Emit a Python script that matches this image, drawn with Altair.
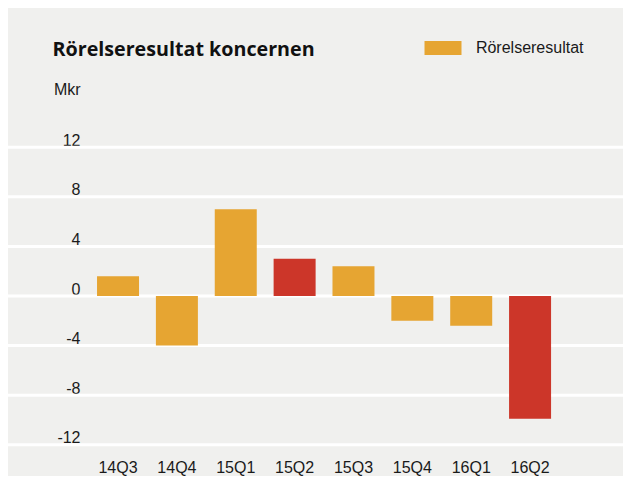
import altair as alt
import pandas as pd

quarters = ["14Q3", "14Q4", "15Q1", "15Q2", "15Q3", "15Q4", "16Q1", "16Q2"]
values = [1.6, -4.0, 7.0, 3.0, 2.4, -2.0, -2.4, -9.9]
highlight = [0, 0, 0, 1, 0, 0, 0, 1]
series_name = "Rörelseresultat"
y_ticks = [-12, -8, -4, 0, 4, 8, 12]
title_text = "Rörelseresultat koncernen"
unit_text = "Mkr"

ORANGE = "#E6A532"
RED = "#CC3629"
BG = "#F0F0EE"
TXT = "#1a1a1a"
FONT = "Liberation Sans"

W, H = 615, 468

df = pd.DataFrame({
    "kvartal": quarters,
    "varde": values,
    "highlight": highlight,
    "serie": [series_name] * len(quarters),
})

yscale = alt.Scale(domain=[-12, 12], range=[436.8, 139.2], nice=False)
yaxis = alt.Axis(orient="left", offset=-72, domain=False, ticks=False,
                 grid=False, values=y_ticks, labelAlign="right",
                 labelBaseline="alphabetic", labelOffset=-2,
                 labelPadding=0, labelFont=FONT, labelFontSize=16,
                 labelColor=TXT, labelExpr="'' + datum.value",
                 title=None)

grid = alt.Chart(pd.DataFrame({"varde": y_ticks})).mark_rule(
    color="white", strokeWidth=3
).encode(
    y=alt.Y("varde:Q", scale=yscale, axis=yaxis),
    x=alt.value(0),
    x2=alt.value(W),
)

bars = alt.Chart(df).mark_bar().encode(
    x=alt.X(
        "kvartal:N",
        sort=quarters,
        scale=alt.Scale(domain=quarters, range=[80.6, 551.5],
                        paddingInner=0.2865, paddingOuter=0.14325),
        axis=alt.Axis(orient="bottom", offset=-3.3, domain=False, ticks=False,
                      grid=False, labelPadding=0, labelBaseline="alphabetic",
                      labelAngle=0, labelFont=FONT, labelFontSize=16,
                      labelColor=TXT, title=None),
    ),
    y=alt.Y("varde:Q", scale=yscale, axis=yaxis),
    color=alt.condition(
        alt.datum.highlight == 1,
        alt.value(RED),
        alt.Color(
            "serie:N",
            scale=alt.Scale(domain=[series_name], range=[ORANGE]),
            legend=alt.Legend(
                orient="none", legendX=416.5, legendY=21.5, title=None,
                symbolType="M-1,-0.378H1V0.378H-1Z", symbolSize=1369,
                symbolStrokeWidth=0, labelFont=FONT, labelFontSize=16,
                labelColor=TXT, labelOffset=14.4, padding=0,
            ),
        ),
    ),
)

title = alt.Chart(pd.DataFrame({"t": [title_text]})).mark_text(
    align="left", baseline="alphabetic", font="Open Sans", fontWeight="bold",
    fontSize=19.7, color="#111111",
).encode(x=alt.value(44.5), y=alt.value(48), text="t:N")

unit = alt.Chart(pd.DataFrame({"t": [unit_text]})).mark_text(
    align="left", baseline="alphabetic", font=FONT, fontSize=16, color=TXT,
).encode(x=alt.value(46), y=alt.value(87), text="t:N")

chart = alt.layer(grid, bars, title, unit).properties(
    width=W, height=H, padding=0, background=BG,
    autosize=alt.AutoSizeParams(type="none"),
).configure_view(strokeWidth=0)

chart.save("out.html", embed_options={"renderer": "svg", "actions": False})
